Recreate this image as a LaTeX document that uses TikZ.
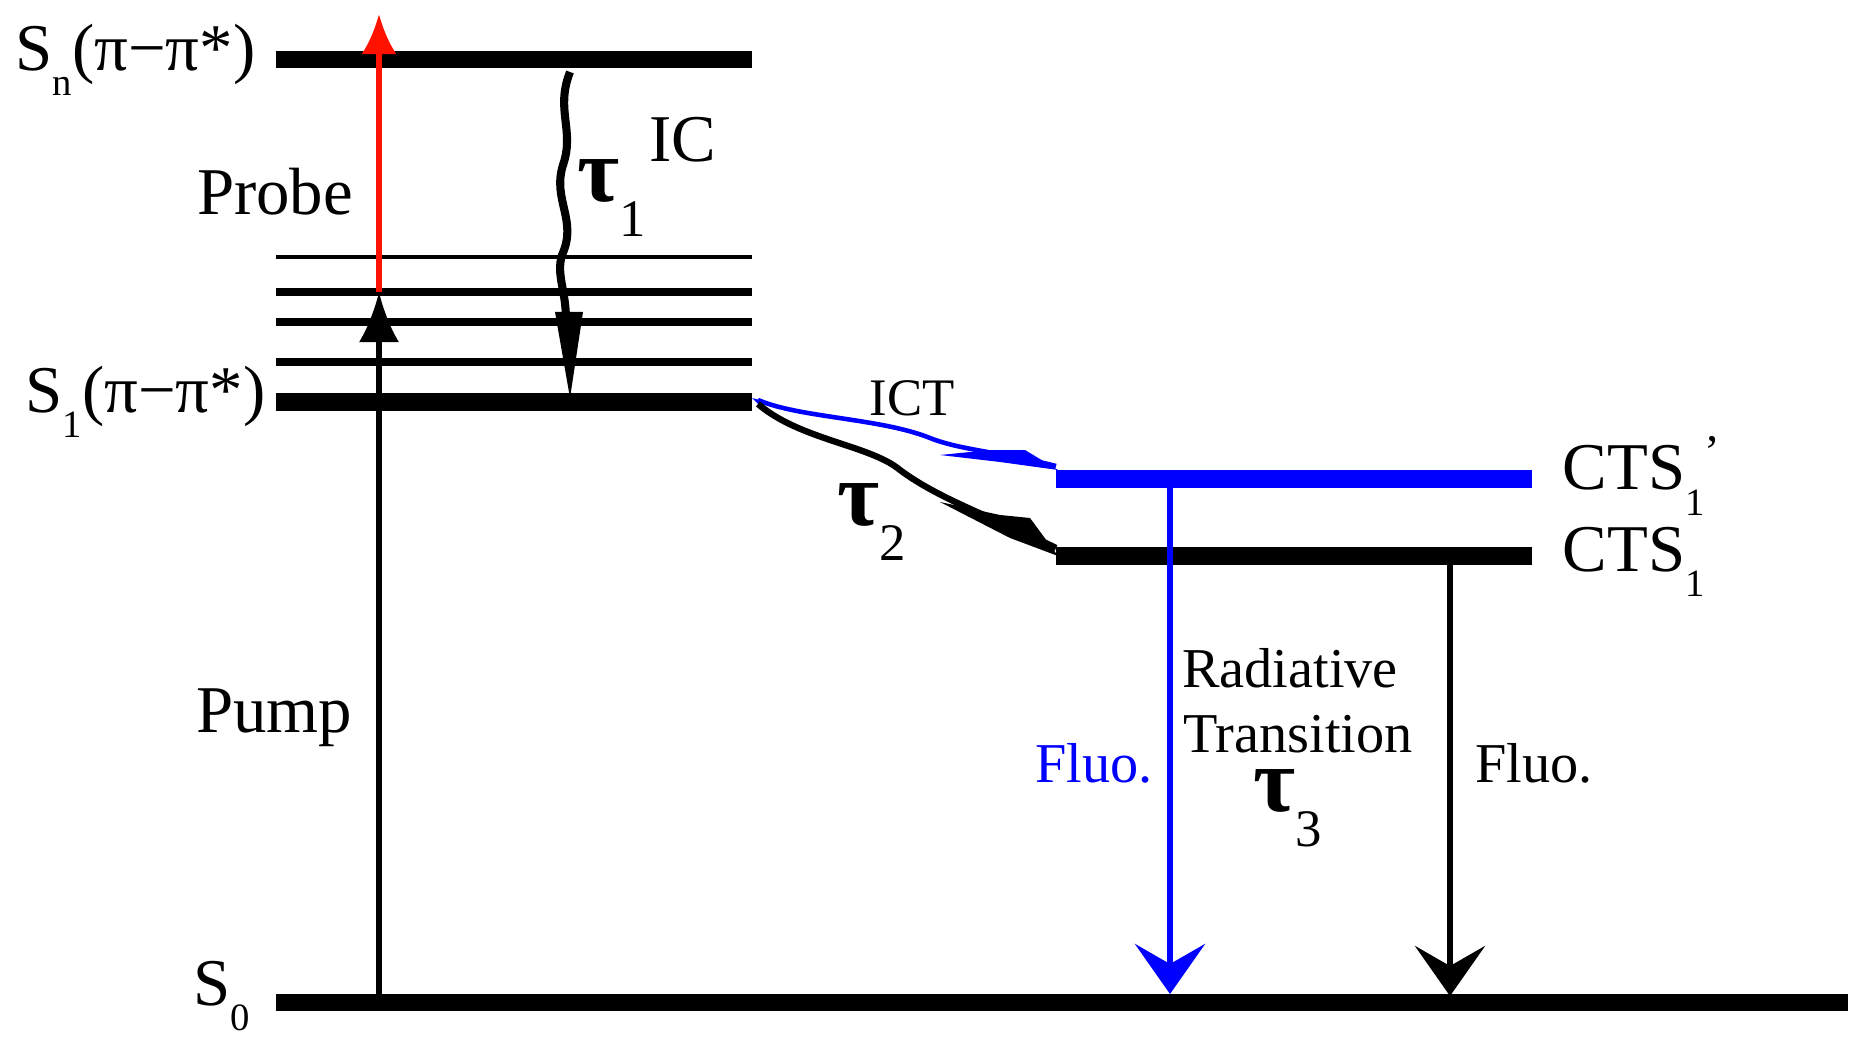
\documentclass[tikz,border=0pt]{standalone}
\usepackage{fontspec}
\setmainfont{Liberation Serif}
\usetikzlibrary{arrows.meta}
\newcommand{\lsub}[1]{\raisebox{-0.38em}{\fontsize{11}{12}\selectfont #1}}
\newcommand{\tsub}[1]{\raisebox{-0.38em}{\fontsize{15}{16}\selectfont\mdseries #1}}
\begin{document}
\begin{tikzpicture}[x=0.01cm,y=-0.01cm,
  lvl/.style={line width=17*0.2845pt},
  lbl/.style={font=\fontsize{19}{24}\selectfont, inner sep=0},
  tau/.style={font=\fontsize{26}{28}\selectfont\bfseries, inner sep=0},
  txt/.style={font=\fontsize{16}{20}\selectfont, inner sep=0},
  arr/.style={line width=1.6pt,-{Latex[length=5mm,width=4mm]}}]
\useasboundingbox (0,0) rectangle (1870,1040);
% levels
\draw[lvl] (276,60) coordinate(sn0) -- (752,60) coordinate(sn1);
\draw[line width=1pt] (276,257) -- (752,257);
\draw[line width=2pt] (276,292) coordinate(v0) -- (752,292);
\draw[line width=2pt] (276,322) -- (752,322);
\draw[line width=2pt] (276,362) -- (752,362);
\draw[lvl] (276,402) coordinate(s10) -- (752,402) coordinate(s1);
\draw[lvl,blue] (1056,479) coordinate(ctsp) -- (1532,479);
\draw[lvl] (1056,556) coordinate(cts) -- (1532,556);
\draw[lvl] (276,1002) -- (1848,1002);
% pump and probe
\coordinate (p0) at (379,994);
\coordinate (p1) at (379,292);
\coordinate (p2) at (379,14);
\draw[arr] (p0) -- (p1);
\draw[line width=1.6pt,red!85!orange,-{Latex[length=4mm,width=3.5mm]}] (p1) -- (p2);
% IC wavy
\draw[line width=2.3pt] (570,72) .. controls (555,110) and (575,130) .. (563,165)
  .. controls (552,200) and (578,220) .. (562,255) .. controls (556,275) and (566,290) .. (566,320);
\fill (555,312) -- (583,312) -- (570,398) -- cycle;
% ICT
\draw[blue,line width=1.3pt] (758,400) .. controls (800,418) and (880,418) .. (930,438) .. controls (960,450) and (1000,452) .. (1056,466);
\fill[blue] (752,398) -- (775,404) -- (758,404) -- cycle;
\fill[blue] (1058,470) -- (1025,450) -- (990,450) -- (940,455) -- (1000,462) -- cycle;
\draw[line width=1.8pt] (758,404) .. controls (800,440) and (870,445) .. (900,470) .. controls (940,500) and (1000,520) .. (1056,548);
\fill (1058,556) -- (1030,518) -- (1000,515) -- (940,502) -- (1010,538) -- cycle;
% fluorescence
\draw[line width=1.6pt,blue,-{Stealth[length=5mm,width=7mm,inset=2mm]}] (1170,479) -- (1170,994);
\draw[line width=1.6pt,-{Stealth[length=5mm,width=7mm,inset=2mm]}] (1450,556) -- (1450,996);
% labels
\node[lbl,anchor=east] at (256,60) {S\lsub{n}(π−π*)};
\node[lbl,anchor=east] at (266,402) {S\lsub{1}(π−π*)};
\node[lbl] at (275,192) {Probe};
\node[lbl] at (274,718) {Pump};
\node[lbl] at (683,140) {IC};
\node[tau] at (612,198) {τ\tsub{1}};
\node[font=\fontsize{15}{18}\selectfont] at (912,398) {ICT};
\node[tau] at (872,522) {τ\tsub{2}};
\node[lbl,anchor=west] at (1562,476) {CTS\lsub{1}\textsuperscript{’}};
\node[lbl,anchor=west] at (1562,562) {CTS\lsub{1}};
\node[txt] at (1290,668) {Radiative};
\node[txt] at (1298,734) {Transition};
\node[tau] at (1288,808) {τ\tsub{3}};
\node[txt,blue] at (1094,763) {Fluo.};
\node[txt] at (1534,763) {Fluo.};
\node[lbl] at (222,996) {S\lsub{0}};
\end{tikzpicture}
\end{document}
